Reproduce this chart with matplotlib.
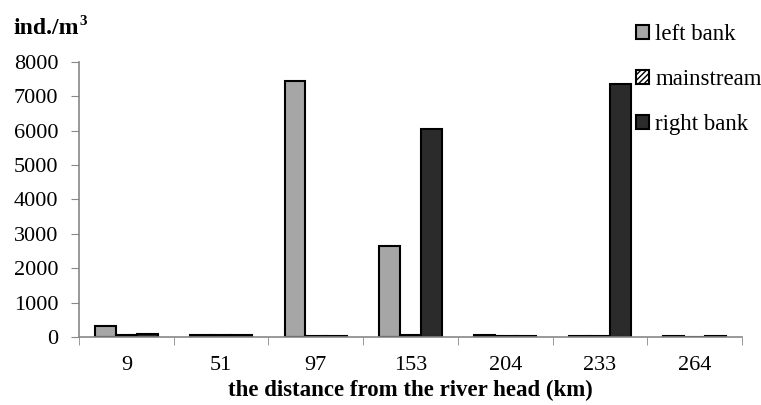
import numpy as np
import matplotlib.pyplot as plt

plt.rcParams['font.family'] = ['Liberation Serif', 'DejaVu Serif']

distances = ['9', '51', '97', '153', '204', '233', '264']
left_bank = [310, 50, 7450, 2650, 50, 40, 20]
mainstream = [70, 50, 20, 50, 20, 20, 10]
right_bank = [100, 50, 20, 6050, 20, 7350, 40]

fig = plt.figure(figsize=(7.61, 4.05), dpi=100)
ax = fig.add_axes([79 / 761, (405 - 337) / 405, (742 - 79) / 761, (337 - 62) / 405])

x = np.arange(len(distances))
w = 0.22
ax.bar(x - w, left_bank, w, color='#a6a6a6', edgecolor='black', linewidth=1.5, label='left bank')
ax.bar(x, mainstream, w, color='white', edgecolor='black', linewidth=1.5, label='mainstream')
ax.bar(x + w, right_bank, w, color='#2b2b2b', edgecolor='black', linewidth=1.5, label='right bank')

ax.set_xlim(-0.5, len(distances) - 0.5)
ax.set_ylim(0, 8000)
ax.set_yticks(range(0, 8001, 1000))
ax.set_xticks(x)
ax.set_xticklabels(distances)
ax.set_xticks(np.arange(-0.5, len(distances)), minor=True)
ax.tick_params(axis='x', which='major', length=0, pad=14, labelsize=16)
ax.tick_params(axis='x', which='minor', length=6, color='#888888', direction='out')
ax.tick_params(axis='y', length=6, color='#888888', labelsize=16, pad=9)

for s in ['top', 'right']:
    ax.spines[s].set_visible(False)
for s in ['left', 'bottom']:
    ax.spines[s].set_color('#888888')
    ax.spines[s].set_linewidth(1.2)

ax.set_xlabel('the distance from the river head (km)', fontsize=16.5, fontweight='bold', labelpad=3)
unit = fig.text(13 / 761, 1 - 28 / 405, 'ind./m', fontsize=17, fontweight='bold', va='center')
ax.annotate('3', xy=(1, 1), xycoords=unit, xytext=(1, 2), textcoords='offset points',
            fontsize=11, fontweight='bold', va='top', ha='left')

leg = ax.legend(loc='upper left', bbox_to_anchor=(636 / 761, 1 - 24 / 405), bbox_transform=fig.transFigure,
                frameon=False, fontsize=16.5, handlelength=0.55, handleheight=0.55, handletextpad=0.3,
                labelspacing=1.05, borderaxespad=0, borderpad=0)
leg.legend_handles[1].set_hatch('//////')

fig.savefig('out.png', dpi=100)
